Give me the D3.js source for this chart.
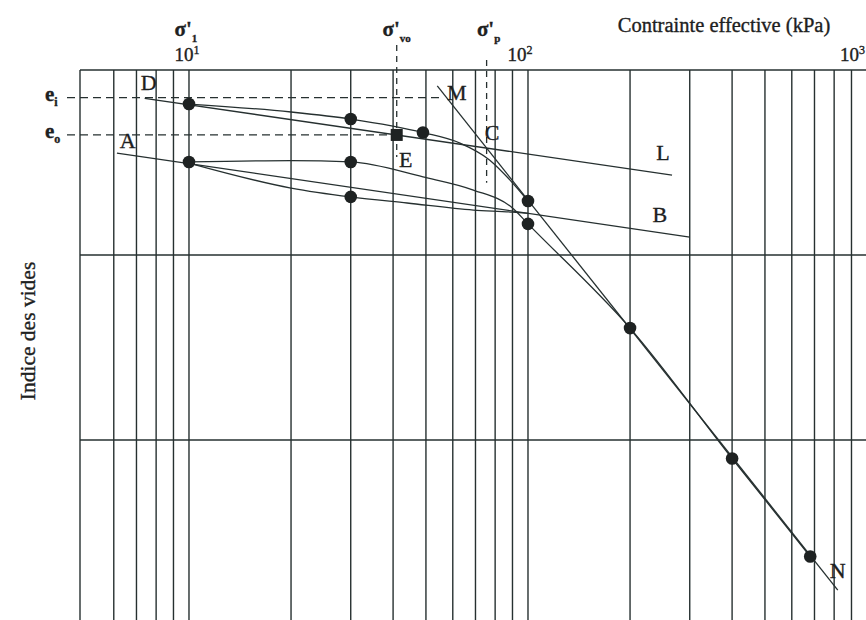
<!DOCTYPE html>
<html><head><meta charset="utf-8">
<script src="https://cdn.jsdelivr.net/npm/d3@7"></script>
<style>
html,body{margin:0;padding:0;background:#fff;}
svg{display:block;}
text{font-family:"Liberation Serif","Times New Roman",serif;fill:#1d2121;stroke:#1d2121;stroke-width:0.35px;}
</style></head><body><svg id="c" width="866" height="620"></svg>
<script>
// Oedometer curve: void ratio versus effective stress (log scale)

// grid
const stressGrid = [6,7,8,9,10,20,30,40,50,60,70,80,90,100,200,300,400,500,600,700,800,900,1000];
const decadeValues = [10, 100, 1000];
const decadeExponents = ["1", "2", "3"];
const voidGrid = [0.9, 0.8, 0.7];

// first loading from e_i
const firstLoadStress = [10, 20, 30, 49, 63, 77, 88.5, 100];
const firstLoadVoid   = [0.9816, 0.9773, 0.9735, 0.9662, 0.9605, 0.9514, 0.9405, 0.9292];
const firstLoadDotStress = [10, 30, 49, 100];
const firstLoadDotVoid   = [0.9816, 0.9735, 0.9662, 0.9292];

// unloading branch of the loop
const unloadStress = [10, 20, 30, 44, 69, 90, 100];
const unloadVoid   = [0.9497, 0.9362, 0.9314, 0.9281, 0.9243, 0.9232, 0.9225];
const unloadDotStress = [30];
const unloadDotVoid   = [0.9314];

// reloading branch and virgin compression
const reloadStress = [10, 20, 30, 49, 69, 90, 100, 200, 400, 680];
const reloadVoid   = [0.9503, 0.9510, 0.9503, 0.9422, 0.9351, 0.9254, 0.9168, 0.8605, 0.7900, 0.7370];
const reloadDotStress = [10, 30, 100, 200, 400, 680];
const reloadDotVoid   = [0.9503, 0.9503, 0.9168, 0.8605, 0.7900, 0.7370];

// straight construction lines [start, end]
const lineDLStress = [7.4, 266];  const lineDLVoid = [0.9847, 0.9432];
const lineABStress = [6.13, 300]; const lineABVoid = [0.9551, 0.9097];
const lineMNStress = [54, 820];   const lineMNVoid = [0.9914, 0.7189];

// reference states
const eI = 0.9851, eO = 0.9649;
const sigmaVo = 41, sigmaP = 75.5;

// point labels
const pointNames  = ["D", "A", "M", "C", "E", "L", "B", "N"];
const pointStress = [7.6, 6.6, 61.7, 78.3, 43.6, 250, 245, 820];
const pointVoid   = [0.9892, 0.9578, 0.9838, 0.9622, 0.9476, 0.9514, 0.9178, 0.7254];

const svg = d3.select("#c");
const x = d3.scaleLog().domain([4.77, 1000]).range([80, 867]);
const y = d3.scaleLinear().domain([0.7, 1.0]).range([625, 70]);
const ink = "#263030";

// grid
const g = svg.append("g");
g.selectAll(".vg").data(stressGrid).join("line")
  .attr("x1", d => x(d)).attr("x2", d => x(d))
  .attr("y1", y(1.0)).attr("y2", y(0.69))
  .attr("stroke", ink).attr("stroke-width", 1.4);
g.selectAll(".hg").data(voidGrid.concat([1.0])).join("line")
  .attr("x1", x(4.77)).attr("x2", x(1100))
  .attr("y1", d => y(d)).attr("y2", d => y(d))
  .attr("stroke", ink).attr("stroke-width", 1.4);
g.append("line").attr("x1", x(4.77)).attr("x2", x(4.77))
  .attr("y1", y(1.0)).attr("y2", y(0.69)).attr("stroke", ink).attr("stroke-width", 1.4);

// decade labels
decadeValues.forEach((v, i) => {
  const last = i === decadeValues.length - 1;
  const t = svg.append("text").attr("x", last ? 865 : x(v) - (i === 0 ? 2 : 8)).attr("y", 61)
    .attr("text-anchor", last ? "end" : "middle").attr("font-size", 19);
  t.append("tspan").text("10");
  t.append("tspan").attr("dy", -7).attr("font-size", 12).text(decadeExponents[i]);
});

svg.append("text").attr("x", 724).attr("y", 32).attr("text-anchor", "middle")
  .attr("font-size", 20.5).text("Contrainte effective (kPa)");
svg.append("text").attr("transform", "translate(35,331) rotate(-90)")
  .attr("text-anchor", "middle").attr("font-size", 21.5).text("Indice des vides");

// dashed reference lines
const dash = svg.append("g").attr("stroke", ink).attr("stroke-width", 1.3).attr("fill", "none");
dash.append("line").attr("x1", 67).attr("x2", x(55)).attr("y1", y(eI)).attr("y2", y(eI))
  .attr("stroke-dasharray", "8,5");
dash.append("line").attr("x1", 67).attr("x2", x(sigmaVo)).attr("y1", y(eO)).attr("y2", y(eO))
  .attr("stroke-dasharray", "8,5");
dash.append("line").attr("x1", x(sigmaVo)).attr("x2", x(sigmaVo)).attr("y1", 45).attr("y2", y(0.953))
  .attr("stroke-dasharray", "6,5");
dash.append("line").attr("x1", x(sigmaP)).attr("x2", x(sigmaP)).attr("y1", 60).attr("y2", y(0.939))
  .attr("stroke-dasharray", "6,5");

// state labels
function sigmaLabel(cx, sub) {
  const t = svg.append("text").attr("x", cx).attr("y", 36).attr("text-anchor", "middle")
    .attr("font-size", 21).attr("font-weight", "bold");
  t.append("tspan").text("σ'");
  t.append("tspan").attr("dy", 6).attr("font-size", 11).text(sub);
}
sigmaLabel(x(10) - 3, "1");
sigmaLabel(x(sigmaVo), "vo");
sigmaLabel(x(sigmaP) + 2, "p");

function eLabel(cy, sub) {
  const t = svg.append("text").attr("x", 45).attr("y", cy).attr("font-size", 21).attr("font-weight", "bold");
  t.append("tspan").text("e");
  t.append("tspan").attr("dy", 5).attr("font-size", 12).text(sub);
}
eLabel(y(eI) + 3, "i");
eLabel(y(eO) + 3, "o");

// curves and straight lines
const curve = d3.line().x(d => x(d[0])).y(d => y(d[1])).curve(d3.curveMonotoneX);
const zip = (a, b) => a.map((v, i) => [v, b[i]]);
const lines = svg.append("g").attr("fill", "none").attr("stroke", ink).attr("stroke-width", 1.3);
[[firstLoadStress, firstLoadVoid], [unloadStress, unloadVoid], [reloadStress, reloadVoid],
 [lineDLStress, lineDLVoid], [lineABStress, lineABVoid], [lineMNStress, lineMNVoid]]
  .forEach(([s, e]) => lines.append("path").attr("d", curve(zip(s, e))));

// measured points
const dots = zip(firstLoadDotStress, firstLoadDotVoid)
  .concat(zip(unloadDotStress, unloadDotVoid), zip(reloadDotStress, reloadDotVoid));
svg.append("g").selectAll("circle").data(dots).join("circle")
  .attr("cx", d => x(d[0])).attr("cy", d => y(d[1])).attr("r", 6.3).attr("fill", "#1e2222");
svg.append("rect").attr("x", x(sigmaVo) - 6).attr("y", y(eO) - 6)
  .attr("width", 12).attr("height", 12).attr("fill", "#1e2222");

// point names
svg.append("g").selectAll("text").data(pointNames).join("text")
  .attr("x", (d, i) => x(pointStress[i])).attr("y", (d, i) => y(pointVoid[i]))
  .attr("text-anchor", "middle").attr("font-size", 22).text(d => d);
</script></body></html>
